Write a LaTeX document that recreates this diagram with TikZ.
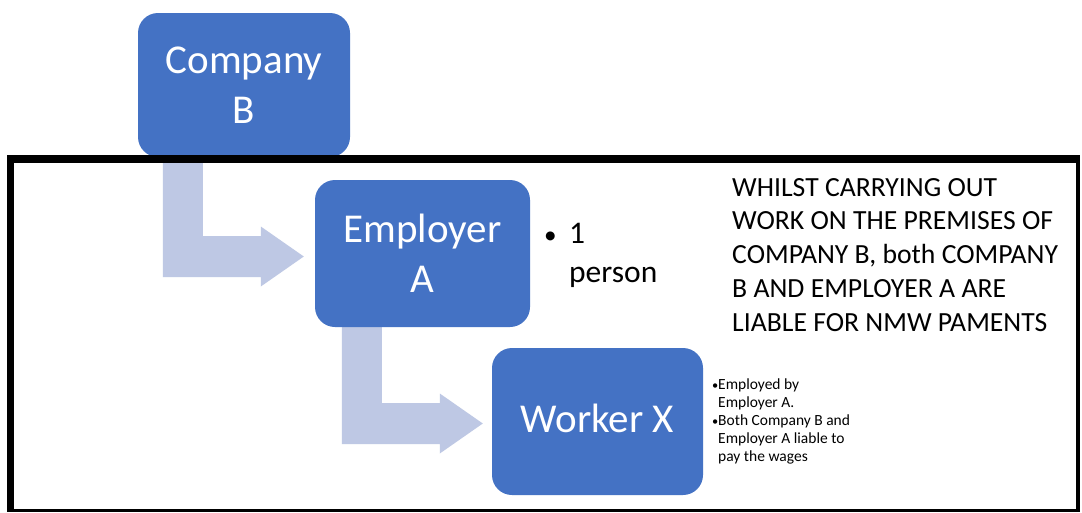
\documentclass[tikz,border=0pt]{standalone}
\usepackage{fontspec}
\setmainfont{Carlito}
\usetikzlibrary{calc,backgrounds}
\definecolor{boxblue}{RGB}{68,114,196}
\definecolor{arrowblue}{RGB}{190,200,228}
\tikzset{
  bluebox/.style={draw=none, fill=boxblue, rounded corners=20pt, inner sep=0pt,
    text=white, align=center, font=\fontsize{41}{50}\selectfont},
  bentarrow/.pic={\fill[arrowblue] (-141,-98) -- (-101,-98) -- (-101,-20.5) -- (-43,-20.5)
    -- (-43,-30) -- (0,0) -- (-43,30) -- (-43,20.5) -- (-141,20.5) -- cycle;},
  framebar/.style={fill=black, draw=none},
  bignote/.style={inner sep=0pt, anchor=north west, align=left, text=black,
    font=\fontsize{27.7}{33.8}\selectfont},
  midnote/.style={inner sep=0pt, anchor=north west, align=left, text=black,
    font=\fontsize{31.5}{39}\selectfont},
  smallnote/.style={inner sep=0pt, anchor=north west, align=left, text=black,
    font=\fontsize{15.5}{18}\selectfont}
}
\begin{document}
\begin{tikzpicture}[x=1pt,y=-1pt]
\useasboundingbox (0,0) rectangle (1082,512);
% boxes
\node[bluebox, minimum width=212pt, minimum height=144pt] (cb) at (244,85) {Company\\B};
\node[bluebox, minimum width=215pt, minimum height=147pt] (ea) at (422.5,253.5) {Employer\\A};
\node[bluebox, minimum width=211pt, minimum height=147pt, text height=29pt, text depth=8pt] (wx) at (597.5,421.5) {Worker X};
% arrows
\coordinate (t1) at ($(ea.west)+(-11,3)$);
\coordinate (t2) at ($(wx.west)+(-9,2)$);
\begin{scope}[on background layer]
\fill[white] (0,0) rectangle (1082,512);
\pic at (t1) {bentarrow};
\pic at (t2) {bentarrow};
\end{scope}
% frame
\fill[framebar] (7,155) rectangle (1080,163);
\fill[framebar] (7,155) rectangle (14,512);
\fill[framebar] (1076,155) rectangle (1080,512);
\fill[framebar] (7,509) rectangle (1080,512);
% notes
\node[midnote] (np) at (544,223) {\makebox[25pt][l]{\scalebox{0.8}{\textbullet}}1\\\hspace*{25pt}person};
\node[bignote] (nr) at (732,178) {WHILST CARRYING OUT\\WORK ON THE PREMISES OF\\COMPANY B, both COMPANY\\B AND EMPLOYER A ARE\\LIABLE FOR NMW PAMENTS};
\node[smallnote] (nw) at (712,378.5) {\makebox[6pt][l]{\scalebox{0.8}{\textbullet}}Employed by\\\hspace*{6pt}Employer A.\\\makebox[6pt][l]{\scalebox{0.8}{\textbullet}}Both Company B and\\\hspace*{6pt}Employer A liable to\\\hspace*{6pt}pay the wages};
\end{tikzpicture}
\end{document}
